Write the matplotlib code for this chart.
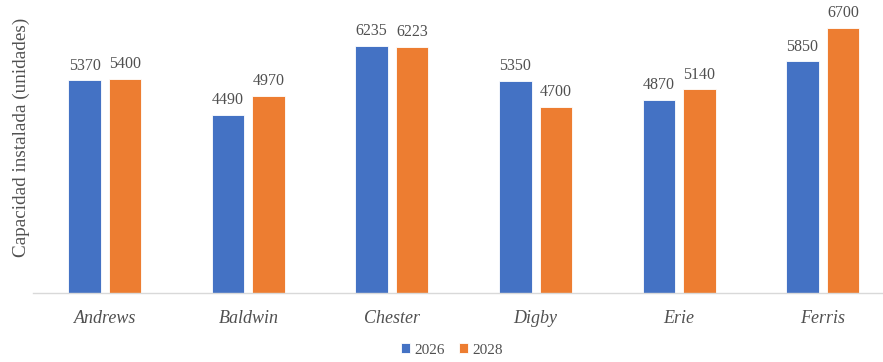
import matplotlib
matplotlib.use("Agg")
import matplotlib.pyplot as plt
import numpy as np

categorias = ["Andrews", "Baldwin", "Chester", "Digby", "Erie", "Ferris"]
v2026 = [5370, 4490, 6235, 5350, 4870, 5850]
v2028 = [5400, 4970, 6223, 4700, 5140, 6700]
series = ["2026", "2028"]

plt.rcParams['font.family'] = ['Liberation Serif', 'DejaVu Serif']
gris = '#505050'

fig = plt.figure(figsize=(8.83, 3.62), dpi=100)
# ejes en pixeles: x de 33 a 883, base en y=293
ax = fig.add_axes([33/883, (362-293)/362, 850/883, 293/362])

x = np.arange(len(categorias))
w = 0.226
off = 0.141
b1 = ax.bar(x - off, v2026, w, color='#4472C4', edgecolor='white', linewidth=0.6, label=series[0])
b2 = ax.bar(x + off, v2028, w, color='#ED7D31', edgecolor='white', linewidth=0.6, label=series[1])

for barras in (b1, b2):
    for b in barras:
        ax.text(b.get_x() + b.get_width()/2, b.get_height() + 170, str(int(b.get_height())),
                ha='center', va='bottom', fontsize=11.5, color=gris)

ax.set_xlim(-0.5, 5.42)
ax.set_ylim(0, 7400)
ax.set_xticks(x)
ax.set_xticklabels(categorias, fontsize=13, style='italic', color=gris)
ax.tick_params(axis='x', length=0, pad=12)
ax.set_yticks([])
for s in ['top', 'right', 'left']:
    ax.spines[s].set_visible(False)
ax.spines['bottom'].set_color('#D9D9D9')
ax.spines['bottom'].set_linewidth(1)

fig.text(21/883, 1 - 137/362, "Capacidad instalada (unidades)", rotation=90,
         ha='center', va='center', fontsize=13.8, color=gris)

fig.legend(loc='center', bbox_to_anchor=(452/883, 1 - 350/362), ncol=2, frameon=False,
           fontsize=11, handlelength=0.6, handleheight=0.6, handletextpad=0.3,
           columnspacing=0.9, labelcolor=gris)

fig.savefig("out.png", dpi=100)
